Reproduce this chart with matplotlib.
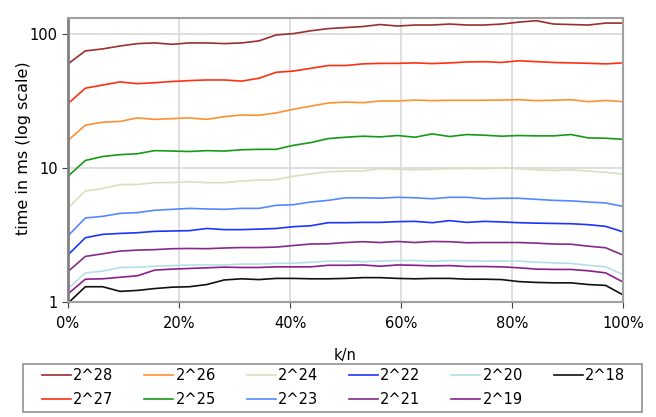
import numpy as np
import matplotlib.pyplot as plt
from matplotlib.patches import Rectangle
from matplotlib.ticker import FixedLocator, FuncFormatter, NullLocator

# k/n sampled in 32 steps
x = np.arange(33) / 32 * 100

t28 = [60, 75, 77.6, 81.6, 85, 86, 84, 86, 86, 85, 86, 89, 98.6, 101, 106, 110, 112, 114, 118, 115, 117,
       117, 119, 117, 117, 119, 123, 126, 119, 118, 117, 121, 121]
t27 = [30.3, 39.5, 41.7, 44, 42.7, 43.4, 44.3, 45, 45.5, 45.5, 44.6, 46.8, 51.9, 53, 55.6, 58.3, 58.3, 60,
       60.5, 60.5, 61, 60.3, 61, 62, 62.3, 61.5, 63.3, 62.3, 61.5, 61, 60.6, 60, 61]
t26 = [16.1, 20.9, 22, 22.3, 23.7, 23.1, 23.4, 23.7, 23.1, 24.2, 24.9, 24.8, 25.8, 27.5, 29, 30.6, 31.1, 30.8,
       31.7, 31.7, 32.2, 31.9, 32.1, 32.1, 32.1, 32.2, 32.4, 31.9, 32.1, 32.4, 31.3, 32, 31.3]
t25 = [8.7, 11.4, 12.2, 12.6, 12.8, 13.5, 13.4, 13.3, 13.5, 13.4, 13.7, 13.8, 13.8, 14.8, 15.5, 16.6, 17, 17.3,
       17.1, 17.5, 17, 18, 17.2, 17.8, 17.6, 17.3, 17.5, 17.4, 17.4, 17.8, 16.8, 16.7, 16.4]
t24 = [5.04, 6.76, 7.04, 7.54, 7.54, 7.78, 7.8, 7.9, 7.78, 7.78, 8.0, 8.13, 8.2, 8.7, 9.05, 9.4, 9.5, 9.5,
       9.9, 9.8, 9.7, 9.8, 9.9, 9.95, 9.9, 10.05, 9.9, 9.7, 9.6, 9.7, 9.5, 9.3, 9.0]
t23 = [3.12, 4.24, 4.36, 4.59, 4.65, 4.84, 4.92, 5.0, 4.95, 4.92, 5.0, 5.0, 5.27, 5.33, 5.58, 5.74, 6.0, 6.0,
       5.96, 6.05, 6.0, 5.9, 6.05, 6.05, 5.9, 5.95, 5.95, 5.84, 5.74, 5.69, 5.58, 5.49, 5.17]
t22 = [2.25, 3.02, 3.2, 3.25, 3.29, 3.37, 3.39, 3.41, 3.54, 3.47, 3.47, 3.5, 3.54, 3.65, 3.71, 3.91, 3.91,
       3.93, 3.93, 3.98, 4.0, 3.91, 4.05, 3.93, 4.0, 3.96, 3.91, 3.88, 3.86, 3.84, 3.78, 3.67, 3.34]
t21 = [1.69, 2.19, 2.29, 2.4, 2.44, 2.46, 2.5, 2.51, 2.5, 2.53, 2.55, 2.55, 2.57, 2.64, 2.71, 2.72, 2.78,
       2.82, 2.78, 2.83, 2.78, 2.83, 2.82, 2.77, 2.78, 2.78, 2.78, 2.75, 2.71, 2.7, 2.61, 2.54, 2.24]
t20 = [1.26, 1.65, 1.7, 1.81, 1.82, 1.85, 1.87, 1.89, 1.89, 1.89, 1.92, 1.92, 1.94, 1.95, 1.98, 2.02, 2.02,
       2.0, 2.02, 2.04, 2.04, 2.01, 2.04, 2.03, 2.02, 2.02, 2.02, 1.98, 1.96, 1.94, 1.88, 1.83, 1.6]
t19 = [1.15, 1.48, 1.49, 1.53, 1.57, 1.73, 1.76, 1.78, 1.8, 1.82, 1.81, 1.81, 1.83, 1.83, 1.83, 1.88, 1.88,
       1.89, 1.85, 1.89, 1.88, 1.86, 1.87, 1.84, 1.84, 1.83, 1.8, 1.76, 1.75, 1.75, 1.71, 1.65, 1.41]
t18 = [0.98, 1.3, 1.3, 1.2, 1.22, 1.26, 1.29, 1.3, 1.35, 1.46, 1.49, 1.47, 1.5, 1.5, 1.49, 1.49, 1.5, 1.52,
       1.52, 1.5, 1.49, 1.5, 1.5, 1.48, 1.48, 1.47, 1.42, 1.4, 1.39, 1.39, 1.35, 1.33, 1.13]

series = [
    ("2^28", t28, "#9b2f2f"),
    ("2^27", t27, "#ff3010"),
    ("2^26", t26, "#ff9030"),
    ("2^25", t25, "#159a15"),
    ("2^24", t24, "#d5e3bb"),
    ("2^23", t23, "#5588ff"),
    ("2^22", t22, "#1a35ff"),
    ("2^21", t21, "#862a8a"),
    ("2^20", t20, "#b4dfe8"),
    ("2^19", t19, "#8a1f8a"),
    ("2^18", t18, "#111111"),
]

fig = plt.figure(figsize=(6.56, 4.17), dpi=100)
ax = fig.add_axes([0.1037, 0.2758, 0.8460, 0.6810])

for name, vals, col in series:
    ax.plot(x, vals, color=col, lw=1.2, label=name)

ax.set_yscale("log")
ax.set_ylim(1, 132)
ax.set_xlim(0, 100)
ax.yaxis.set_major_locator(FixedLocator([1, 10, 100]))
ax.yaxis.set_minor_locator(NullLocator())
ax.yaxis.set_major_formatter(FuncFormatter(lambda v, p: f"{v:g}"))
ax.set_xticks(np.arange(0, 101, 20))
ax.xaxis.set_major_formatter(FuncFormatter(lambda v, p: f"{v:.0f}%"))
ax.grid(True, color="#d9d9d9", lw=1.2)
ax.set_axisbelow(True)

for side in ["top", "right", "bottom"]:
    ax.spines[side].set_color("#a0a0a0")
    ax.spines[side].set_linewidth(1.5)
ax.spines["left"].set_color("#808080")
ax.spines["left"].set_linewidth(2)
ax.tick_params(axis="both", labelsize=10.5, color="#404040", length=4)
ax.tick_params(axis="x", direction="out", pad=6)

# y label sits a little above the axes centre in the original
fig.text(24 / 656, 1 - 148 / 417, "time in ms (log scale)", rotation=90, fontsize=11.5,
         ha="center", va="center")
ax.set_xlabel("k/n", fontsize=10.5, labelpad=12)

# legend frame drawn separately so the entries can sit inset from it
fig.patches.append(Rectangle((22.7 / 656, 0.012), 619 / 656, 0.115, transform=fig.transFigure,
                             fill=False, edgecolor="#909090", lw=1.2))
leg = fig.legend(loc="center left", bbox_to_anchor=(37.5 / 656, 0.012, 592 / 656, 0.118), mode="expand",
                 ncol=6, fontsize=10.5, frameon=False, handlelength=2.0,
                 handletextpad=0.15, borderpad=0.3, labelspacing=0.6, borderaxespad=0)

fig.savefig("out.png", dpi=100)
